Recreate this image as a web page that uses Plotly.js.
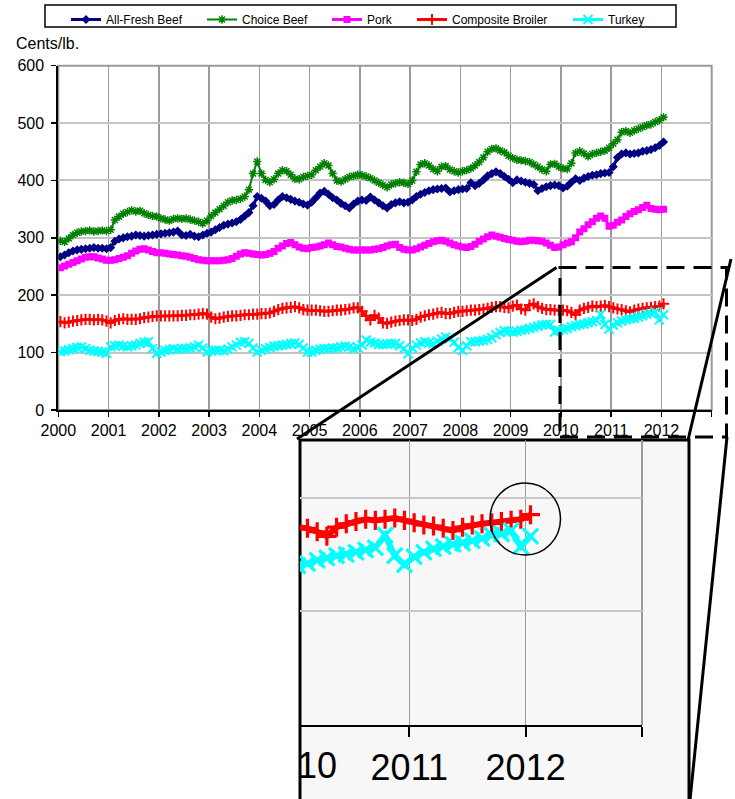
<!DOCTYPE html>
<html>
<head>
<meta charset="utf-8">
<script src="https://cdn.plot.ly/plotly-3.0.1.min.js"></script>
<style>
html,body{margin:0;padding:0;background:#ffffff;}
#chart{width:735px;height:799px;}
</style>
</head>
<body>
<div id="chart"></div>
<script>
// ---------------- DATA (monthly, Jan 2000 - Jan 2012, cents per lb) ----------------
const startYear = 2000;
const seriesNames = ['All-Fresh Beef', 'Choice Beef', 'Pork', 'Composite Broiler', 'Turkey'];
const yearTicks = [2000, 2001, 2002, 2003, 2004, 2005, 2006, 2007, 2008, 2009, 2010, 2011, 2012, 2013];
const yearTickLabels = ['2000', '2001', '2002', '2003', '2004', '2005', '2006', '2007', '2008', '2009', '2010', '2011', '2012', ''];
const valueTicks = [0, 100, 200, 300, 400, 500, 600];
const unitLabel = 'Cents/lb.';
const insetCutLabel = '10';

const allFreshBeef = [
  267,270,274,277,279,280,281,282,283,282,282,281,
  283,294,298,300,302,303,305,304,303,304,305,306,
  307,308,309,310,312,305,304,306,303,302,305,308,
  310,314,318,322,324,326,328,332,338,344,356,372,
  369,364,356,358,366,372,370,367,364,362,359,357,
  362,370,378,381,376,370,366,360,356,352,359,364,
  366,365,371,366,361,356,352,358,361,363,361,362,
  366,372,376,379,382,384,385,386,387,380,382,384,
  385,386,396,391,395,401,408,412,415,412,407,402,
  396,401,399,397,395,393,382,386,389,391,392,391,
  387,390,397,403,400,404,407,409,410,412,413,414,
  424,440,446,448,446,447,448,451,452,454,457,461,
  467
];
const choiceBeef = [
  295,293,299,305,309,311,312,313,311,312,313,312,
  314,331,337,342,345,348,346,347,343,340,338,337,
  334,332,330,333,334,333,334,332,330,328,325,330,
  338,344,350,356,362,365,366,368,372,384,412,433,
  412,401,397,402,412,418,416,410,403,402,406,408,
  410,418,424,430,426,412,400,398,402,406,408,410,
  409,407,404,400,396,392,388,393,395,397,396,394,
  400,415,428,430,426,420,416,424,425,419,416,414,
  416,418,421,426,432,440,450,455,456,452,449,443,
  439,436,435,434,432,428,424,419,416,428,429,424,
  421,420,430,448,451,447,442,446,448,450,452,457,
  464,471,484,486,483,487,490,493,496,498,502,505,
  510
];
const pork = [
  248,251,254,257,260,263,266,267,267,265,263,261,
  261,262,264,266,269,273,277,280,281,279,276,274,
  274,273,272,271,270,269,268,266,264,262,261,260,
  260,260,260,261,262,264,268,272,274,273,272,271,
  270,271,273,276,282,286,290,292,288,284,282,281,
  283,284,286,288,291,288,285,284,282,280,279,279,
  279,279,279,280,281,283,286,288,289,283,280,279,
  279,281,284,287,290,293,295,296,294,291,288,286,
  284,283,285,289,294,298,302,305,303,301,299,297,
  296,294,293,294,296,296,295,294,291,287,283,284,
  288,291,293,300,310,316,323,328,334,338,334,320,
  322,327,331,337,342,346,349,353,357,351,350,349,
  350
];
const compositeBroiler = [
  154,152,153,155,156,157,158,158,157,158,157,155,
  152,156,158,159,158,158,158,159,161,162,163,164,
  164,164,164,164,164,165,165,166,166,167,168,167,
  162,159,160,162,163,164,164,165,166,166,167,167,
  168,168,169,172,175,177,178,179,180,178,175,174,
  174,174,173,172,172,173,174,174,175,176,178,178,
  172,164,157,165,160,152,151,153,155,156,157,157,
  156,158,162,164,166,167,169,170,168,168,170,172,
  172,173,174,174,175,176,177,179,180,180,179,178,
  181,183,176,174,183,185,180,177,175,175,174,174,
  174,173,170,166,174,177,179,181,180,181,182,180,
  178,176,175,173,171,174,176,177,178,179,180,181,
  185
];
const turkey = [
  102,103,105,107,109,110,107,104,103,102,101,99,
  110,112,113,111,110,112,113,116,118,119,107,99,
  101,104,105,107,106,107,107,108,110,113,108,101,
  103,104,104,103,106,110,113,118,119,116,108,101,
  104,107,109,111,112,113,114,116,117,114,108,101,
  101,104,106,107,107,108,108,110,111,110,107,109,
  113,122,118,117,114,114,115,116,116,112,107,98,
  108,113,117,119,117,116,120,124,127,125,118,109,
  104,112,119,119,120,121,123,126,131,135,138,137,
  136,137,139,140,142,144,146,148,149,149,136,139,
  140,142,145,147,149,150,152,154,156,167,149,141,
  148,152,155,157,159,160,162,164,167,168,171,157,
  166
];

// ---------------- BUILD ----------------
const W = 735, H = 799;
const px = v => v / W;
const py = v => 1 - v / H;
const FONT = 'Liberation Sans, Arial, Helvetica, sans-serif';

const seriesValues = [allFreshBeef, choiceBeef, pork, compositeBroiler, turkey];
const months = allFreshBeef.map((_, i) => startYear + (i + 0.5) / 12);

const styles = [
  {color: '#000080', lw: 3, sym: 'diamond', size: 7, mlw: 0},
  {color: '#008000', lw: 2, sym: 'asterisk-open', size: 7, mlw: 1.5},
  {color: '#FF00FF', lw: 3, sym: 'square', size: 7, mlw: 0},
  {color: '#FF0000', lw: 3, sym: 'cross-thin-open', size: 8, mlw: 2},
  {color: '#00FFFF', lw: 3, sym: 'x-thin-open', size: 9, mlw: 2}
];
const legendIds = ['legend', 'legend2', 'legend3', 'legend4', 'legend5'];
const legendTextStart = [106, 242, 367, 452, 608];

const traces = [];
seriesValues.forEach((vals, i) => {
  const s = styles[i];
  traces.push({
    type: 'scatter', mode: 'lines+markers', name: seriesNames[i],
    x: months, y: vals, xaxis: 'x', yaxis: 'y',
    legend: legendIds[i],
    line: {color: s.color, width: s.lw},
    marker: {symbol: s.sym, size: s.size, color: s.color, line: {color: s.color, width: s.mlw}},
    hoverinfo: 'skip'
  });
});
seriesValues.forEach((vals, i) => {
  const s = styles[i];
  traces.push({
    type: 'scatter', mode: 'lines+markers', name: seriesNames[i],
    x: months, y: vals, xaxis: 'x2', yaxis: 'y2', showlegend: false,
    line: {color: s.color, width: s.lw * 2},
    marker: {symbol: s.sym, size: s.size * 1.7, color: s.color, line: {color: s.color, width: s.mlw * 1.6}},
    hoverinfo: 'skip'
  });
});

const layout = {
  width: W, height: H,
  margin: {l: 0, r: 0, t: 0, b: 0, pad: 0},
  paper_bgcolor: '#ffffff',
  plot_bgcolor: 'rgba(0,0,0,0)',
  font: {family: FONT, color: '#000000'},
  showlegend: true,
  xaxis: {
    domain: [px(58.3), px(711.7)], range: [2000, 2013], anchor: 'y',
    tickmode: 'array', tickvals: yearTicks, ticktext: yearTickLabels,
    ticks: 'outside', ticklen: 5, tickwidth: 1.5, tickcolor: '#000',
    showline: true, linecolor: '#000', linewidth: 2,
    showgrid: true, gridcolor: '#9a9a9a', gridwidth: 1.5, zeroline: false,
    tickfont: {family: FONT, size: 16, color: '#000'}, fixedrange: true
  },
  yaxis: {
    domain: [py(410), py(65.7)], range: [0, 600], anchor: 'x',
    tickmode: 'array', tickvals: valueTicks,
    ticks: 'outside', ticklen: 5, tickwidth: 1.5, tickcolor: '#000',
    ticklabelstandoff: 4,
    showline: true, linecolor: '#000', linewidth: 2,
    showgrid: true, gridcolor: '#c4c4c4', gridwidth: 2, zeroline: false,
    tickfont: {family: FONT, size: 16, color: '#000'}, fixedrange: true
  },
  xaxis2: {
    domain: [px(300), px(642)], range: [2010.0606, 2013], anchor: 'y2',
    tickmode: 'array', tickvals: yearTicks, ticktext: yearTickLabels,
    ticks: 'outside', ticklen: 10, tickwidth: 2, tickcolor: '#000',
    showline: true, linecolor: '#000', linewidth: 2,
    showgrid: true, gridcolor: '#9a9a9a', gridwidth: 1.5, zeroline: false,
    tickfont: {family: FONT, size: 36, color: '#000'}, fixedrange: true
  },
  yaxis2: {
    domain: [py(725), py(440)], range: [0, 250.7], anchor: 'x2',
    tickmode: 'array', tickvals: valueTicks, showticklabels: false, ticks: '',
    showline: false, showgrid: true, gridcolor: '#c8c8c8', gridwidth: 2, zeroline: false,
    fixedrange: true
  },
  annotations: [
    {xref: 'paper', yref: 'paper', x: px(14), y: py(43), xanchor: 'left', yanchor: 'middle',
     text: unitLabel, showarrow: false, font: {family: FONT, size: 16, color: '#000'}},
    {xref: 'paper', yref: 'paper', x: px(339), y: py(765), xanchor: 'right', yanchor: 'middle',
     text: insetCutLabel, showarrow: false, font: {family: FONT, size: 36, color: '#000'}}
  ],
  shapes: [
    // inset background box
    {type: 'rect', xref: 'paper', yref: 'paper', x0: px(300), x1: px(689), y0: py(812), y1: py(440),
     fillcolor: '#f7f7f7', line: {color: '#000', width: 3}, layer: 'below'},
    // inset plot right edge
    {type: 'line', xref: 'paper', yref: 'paper', x0: px(642), x1: px(642), y0: py(440), y1: py(725),
     line: {color: '#9a9a9a', width: 2}, layer: 'below'},
    // main plot border
    {type: 'rect', xref: 'paper', yref: 'paper', x0: px(58.3), x1: px(711.7), y0: py(410), y1: py(65.7),
     line: {color: '#9a9a9a', width: 2}, layer: 'below'},
    // legend border
    {type: 'rect', xref: 'paper', yref: 'paper', x0: px(45), x1: px(676), y0: py(27), y1: py(5),
     line: {color: '#000', width: 1.5}, fillcolor: 'rgba(0,0,0,0)', layer: 'below'},
    // dashed zoom rectangle
    {type: 'rect', xref: 'paper', yref: 'paper', x0: px(560), x1: px(726.5), y0: py(437), y1: py(267.5),
     line: {color: '#000', width: 3, dash: '18px,9px'}, layer: 'above'},
    // connector lines
    {type: 'line', xref: 'paper', yref: 'paper', x0: px(556.5), y0: py(267.5), x1: px(297), y1: py(439),
     line: {color: '#000', width: 3}, layer: 'above'},
    {type: 'line', xref: 'paper', yref: 'paper', x0: px(731), y0: py(259), x1: px(688), y1: py(440),
     line: {color: '#000', width: 3}, layer: 'above'},
    {type: 'line', xref: 'paper', yref: 'paper', x0: px(727), y0: py(437), x1: px(690), y1: py(800),
     line: {color: '#000', width: 3}, layer: 'above'},
    // highlight circle
    {type: 'circle', xref: 'paper', yref: 'paper', x0: px(490), x1: px(560.5), y0: py(555), y1: py(483),
     line: {color: '#000', width: 1.5}, layer: 'above'}
  ]
};

legendIds.forEach((id, i) => {
  layout[id] = {
    x: px(legendTextStart[i] - 40), xanchor: 'left',
    y: py(5), yanchor: 'top',
    orientation: 'h', bgcolor: 'rgba(0,0,0,0)', borderwidth: 0,
    font: {family: FONT, size: 12, color: '#000'},
    itemwidth: 30
  };
});

Plotly.newPlot('chart', traces, layout, {displayModeBar: false, staticPlot: true});
</script>
</body>
</html>
